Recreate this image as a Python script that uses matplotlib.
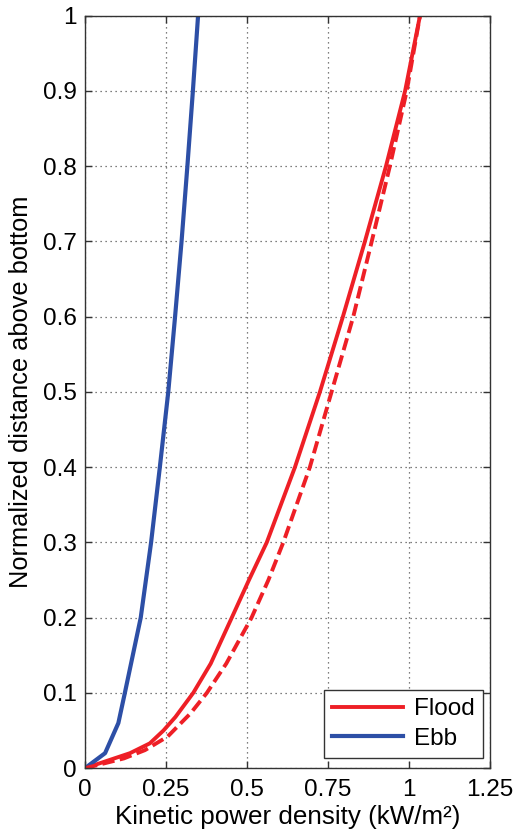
import numpy as np
import matplotlib
matplotlib.use('Agg')
import matplotlib.pyplot as plt

plt.rcParams['font.family'] = ['Liberation Sans', 'DejaVu Sans']

# Ebb (blue)
ebb_y = [0, 0.02, 0.06, 0.1, 0.2, 0.3, 0.4, 0.5, 0.6, 0.7, 0.8, 0.9, 1.0]
ebb_x = [0, 0.062, 0.103, 0.123, 0.172, 0.204, 0.231, 0.257, 0.278, 0.298, 0.316, 0.333, 0.349]

# Flood (red, solid)
flood_y = [0, 0.02, 0.033, 0.05, 0.068, 0.1, 0.139, 0.2, 0.25, 0.3, 0.4, 0.5, 0.6, 0.7, 0.8, 0.9, 1.0]
flood_x = [0, 0.139, 0.20, 0.242, 0.279, 0.334, 0.388, 0.453, 0.506, 0.561, 0.648, 0.725, 0.796, 0.864, 0.929, 0.988, 1.034]

# Flood (red, dashed)
flood2_y = [0, 0.013, 0.024, 0.042, 0.073, 0.1, 0.139, 0.2, 0.25, 0.3, 0.4, 0.5, 0.6, 0.7, 0.8, 0.9, 1.0]
flood2_x = [0, 0.12, 0.185, 0.255, 0.326, 0.376, 0.436, 0.514, 0.566, 0.612, 0.694, 0.761, 0.828, 0.885, 0.941, 0.993, 1.034]

xticks = [0, 0.25, 0.5, 0.75, 1, 1.25]
xticklabels = ['0', '0.25', '0.5', '0.75', '1', '1.25']
yticks = np.round(np.arange(0, 1.01, 0.1), 1)
yticklabels = ['0'] + ['%.1f' % v for v in yticks[1:-1]] + ['1']

red = '#EE1F26'
blue = '#2D4FA6'

fig = plt.figure(figsize=(5.19, 8.35), dpi=100)
ax = fig.add_axes([85/519, 1 - 768.2/835, 405/519, 752.6/835])

ax.plot(flood_x, flood_y, color=red, lw=2.8, label='Flood')
ax.plot(ebb_x, ebb_y, color=blue, lw=3.0, label='Ebb')
ax.plot(flood2_x, flood2_y, color=red, lw=2.8, dashes=(3.2, 1.4))

ax.set_xlim(0, 1.25)
ax.set_ylim(0, 1)
ax.set_xticks(xticks)
ax.set_xticklabels(xticklabels)
ax.set_yticks(yticks)
ax.set_yticklabels(yticklabels)
ax.tick_params(direction='in', top=True, right=True, labelsize=17.5, length=5, width=1, color='#333333')
ax.tick_params(axis='x', pad=8)
ax.tick_params(axis='y', pad=6)
ax.grid(True, linestyle=(0, (1, 3)), color='#555555', lw=0.9)
for s in ax.spines.values():
    s.set_color('#333333')
    s.set_linewidth(1)

ax.set_xlabel('Kinetic power density (kW/m²)', fontsize=18.7, labelpad=3)
ax.set_ylabel('Normalized distance above bottom', fontsize=18.3, labelpad=7)

leg = ax.legend(loc='lower right', bbox_to_anchor=(1 - 7/405, 10/752.6), borderaxespad=0,
                fontsize=17.5, handlelength=2.9, handletextpad=0.45, borderpad=0.35,
                labelspacing=0.3, fancybox=False, framealpha=1, edgecolor='#333333')
leg.get_frame().set_linewidth(1)

fig.savefig('out.png', dpi=100)
